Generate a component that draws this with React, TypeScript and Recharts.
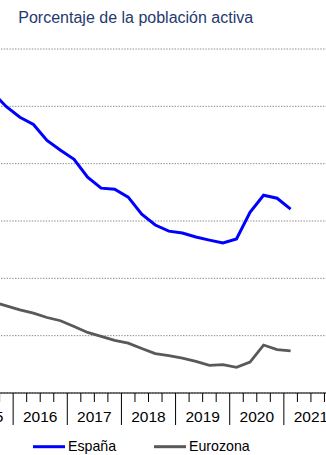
import React from 'react';
import { LineChart, Line, XAxis, YAxis, CartesianGrid, Legend } from 'recharts';

// Tasa de paro trimestral (desestacionalizada), 2015T1 - 2021T1
const periods = [
  '2015T1', '2015T2', '2015T3', '2015T4',
  '2016T1', '2016T2', '2016T3', '2016T4',
  '2017T1', '2017T2', '2017T3', '2017T4',
  '2018T1', '2018T2', '2018T3', '2018T4',
  '2019T1', '2019T2', '2019T3', '2019T4',
  '2020T1', '2020T2', '2020T3', '2020T4',
  '2021T1',
];
const espana = [
  23.2, 22.4, 21.7, 20.98,
  20.43, 20.05, 19.22, 18.7,
  18.23, 17.29, 16.72, 16.66,
  16.25, 15.36, 14.79, 14.47,
  14.37, 14.16, 14.0, 13.85,
  14.06, 15.46, 16.35, 16.19,
  15.62,
];
const eurozona = [
  11.2, 11.0, 10.77, 10.56,
  10.35, 10.18, 9.95, 9.78,
  9.48, 9.17, 8.96, 8.75,
  8.61, 8.33, 8.06, 7.95,
  7.83, 7.65, 7.45, 7.48,
  7.34, 7.62, 8.51, 8.27,
  8.2,
];
const years = [2015, 2016, 2017, 2018, 2019, 2020, 2021, 2022];
const yTicks = [6, 9, 12, 15, 18, 21, 24];

const data = periods.map((p, i) => ({ periodo: p, x: i + 0.5, espana: espana[i], eurozona: eurozona[i] }));
const quarterTicks = Array.from({ length: (years.length - 1) * 4 + 1 }, (_, i) => i);

const QuarterTick = (props: any) => {
  const { x, y, payload } = props;
  const v = payload.value;
  const isYear = v % 4 === 0;
  const isMid = v % 4 === 2;
  return (
    <g>
      <line x1={x} x2={x} y1={y} y2={y + (isYear ? 32 : 9)} stroke="#000" strokeWidth={1} />
      {isMid && (
        <text x={x} y={y + 29} textAnchor="middle" fontSize={15.5} fill="#000" fontFamily="'Liberation Sans', Arial, sans-serif">
          {years[(v - 2) / 4]}
        </text>
      )}
    </g>
  );
};

// las etiquetas del eje Y quedan fuera del recorte
const NoTick = () => <g />;

const LegendContent = (props: any) => {
  const items = props.payload || [];
  const starts = [33, 154];
  return (
    <svg width={326} height={30} style={{ display: 'block' }}>
      {items.map((it: any, i: number) => (
        <g key={it.value}>
          <line x1={starts[i]} x2={starts[i] + 32} y1={21.7} y2={21.7} stroke={it.color} strokeWidth={3} />
          <text x={starts[i] + 35} y={26} fontSize={14.2} fill="#000" fontFamily="'Liberation Sans', Arial, sans-serif">
            {it.value}
          </text>
        </g>
      ))}
    </svg>
  );
};

export default function App() {
  return (
    <div
      style={{
        position: 'fixed', left: 0, top: 0, width: 326, height: 455,
        overflow: 'hidden', background: '#fff',
        fontFamily: "'Liberation Sans', Arial, sans-serif",
      }}
    >
      <div style={{ position: 'absolute', left: 18.3, top: 8.8, fontSize: 16, color: '#1f3a6e', whiteSpace: 'nowrap' }}>
        Porcentaje de la población activa
      </div>
      {/* el gráfico original está recortado: eje Y y parte de 2015 quedan fuera por la izquierda */}
      <div style={{ position: 'absolute', left: -81, top: 0 }}>
        <LineChart width={419} height={455} data={data} margin={{ top: 49, right: 0, bottom: 0, left: 0 }}>
          <CartesianGrid vertical={false} stroke="#8a8a8a" strokeDasharray="1.4 1.4" />
          <YAxis
            width={40}
            type="number"
            domain={[6, 24]}
            ticks={yTicks}
            interval={0}
            axisLine={false}
            tickLine={false}
            tick={<NoTick />}
          />
          <XAxis
            type="number"
            dataKey="x"
            domain={[0, 28]}
            ticks={quarterTicks}
            interval={0}
            height={32}
            tickSize={0}
            tickMargin={0}
            tickLine={false}
            axisLine={{ stroke: '#000', strokeWidth: 1 }}
            tick={<QuarterTick />}
          />
          <Legend
            verticalAlign="bottom"
            height={30}
            content={<LegendContent />}
            wrapperStyle={{ left: 81, width: 326, height: 30 }}
          />
          <Line
            name="España"
            dataKey="espana"
            stroke="#0000ff"
            strokeWidth={3}
            dot={false}
            type="linear"
            isAnimationActive={false}
          />
          <Line
            name="Eurozona"
            dataKey="eurozona"
            stroke="#595959"
            strokeWidth={2.8}
            dot={false}
            type="linear"
            isAnimationActive={false}
          />
        </LineChart>
      </div>
    </div>
  );
}
